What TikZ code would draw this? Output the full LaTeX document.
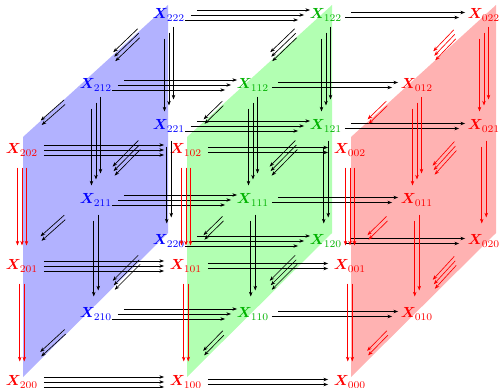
\documentclass[tikz,border=0pt]{standalone}
\usepackage{bm}
\usetikzlibrary{arrows.meta}
\colorlet{planeBlue}{blue!30!white}
\colorlet{planeGreen}{green!30!white}
\colorlet{planeRed}{red!30!white}
\colorlet{labelGreen}{green!70!black}

\begin{document}
\begin{tikzpicture}[x=0.683pt, y=-0.683pt, every node/.style={inner sep=1pt},
        arr/.style={-{Stealth[length=3.2pt,width=2.4pt]}, line width=0.45pt},
        harr/.style={arr, shorten <=15pt, shorten >=15pt},
        varr/.style={arr, shorten <=12pt, shorten >=14pt},
        darr/.style={arr, shorten <=24pt, shorten >=22pt}]
    \useasboundingbox (0,0) rectangle (499,388);
    \foreach \pc/\dx in {planeBlue/0, planeGreen/164, planeRed/328}
        \fill[\pc] (23+\dx,377) -- (23+\dx,137) -- (168+\dx,5) -- (168+\dx,233) -- cycle;

    \foreach \i in {0,1,2} \foreach \j in {0,1,2} \foreach \k in {0,1,2} {
        \pgfmathsetmacro\nx{{22,96,169,186,253,326,350,417,484}[3*(2-\i)+\j]}
        \pgfmathsetmacro\ny{{382,266,150,314,200,85,241,126,15}[3*\j+\k]}
        \ifnum\i=0 \def\tc{red}\else\ifnum\j=0 \def\tc{red}\else\ifnum\i=1 \def\tc{labelGreen}\else\def\tc{blue}\fi\fi\fi
        \node[text=\tc] (x\i\j\k) at (\nx,\ny) {$\bm{X}_{\i\j\k}$};
    }

    % first index
    \foreach \i in {1,2} \foreach \j in {0,1,2} \foreach \k in {0,1,2} {
        \pgfmathtruncatemacro\t{\i-1}
        \pgfmathsetmacro\s{\j>0 ? 6 : 0}
        \foreach \n in {0,...,\i} {
            \pgfmathsetmacro\ox{-\s*(\n-\i/2)}
            \pgfmathsetmacro\oy{5*(\n-\i/2)}
            \draw[harr] ([shift={(\ox,\oy)}]x\i\j\k.center) -- ([shift={(\ox,\oy)}]x\t\j\k.center);
        }
    }
    % third index
    \foreach \i in {0,1,2} \foreach \j in {0,1,2} \foreach \k in {1,2} {
        \pgfmathtruncatemacro\t{\k-1}
        \pgfmathsetmacro\s{\j>0 ? 6 : 0}
        \ifnum\i=0 \def\ac{red}\else\ifnum\j=0 \def\ac{red}\else\def\ac{black}\fi\fi
        \foreach \n in {0,...,\k} {
            \pgfmathsetmacro\ox{4.5*(\n-\k/2)}
            \pgfmathsetmacro\oy{-\s*(\n-\k/2)}
            \draw[varr, \ac] ([shift={(\ox,\oy)}]x\i\j\k.center) -- ([shift={(\ox,\oy)}]x\i\j\t.center);
        }
    }
    % second index
    \foreach \i in {0,1,2} \foreach \j in {1,2} \foreach \k in {0,1,2} {
        \pgfmathtruncatemacro\t{\j-1}
        \ifnum\i=0 \def\ac{red}\else\def\ac{black}\fi
        \foreach \n in {0,...,\j} {
            \pgfmathsetmacro\ox{-5+(\n-\j/2)}
            \pgfmathsetmacro\oy{-6+4.5*(\n-\j/2)}
            \draw[darr, \ac] ([shift={(\ox,\oy)}]x\i\j\k.center) -- ([shift={(\ox,\oy)}]x\i\t\k.center);
        }
    }
\end{tikzpicture}
\end{document}
